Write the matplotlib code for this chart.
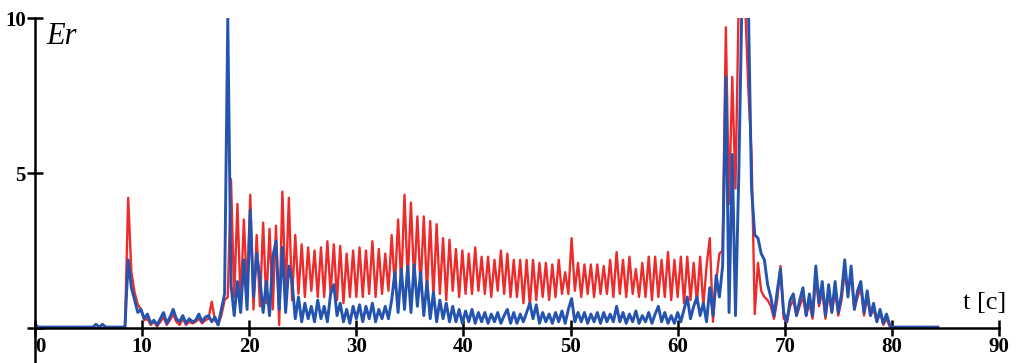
import numpy as np
import matplotlib
matplotlib.use("Agg")
import matplotlib.pyplot as plt

# sampled every 0.3 s, rows of 10 samples (3 s each)
dt = 0.3
blue = [
    0.12, 0.03, 0.03, 0.03, 0.03, 0.03, 0.03, 0.03, 0.03, 0.03,
    0.03, 0.03, 0.03, 0.03, 0.03, 0.03, 0.03, 0.03, 0.03, 0.12,
    0.03, 0.12, 0.03, 0.03, 0.03, 0.03, 0.03, 0.03, 0.03, 2.2,
    1.3, 0.9, 0.5, 0.6, 0.3, 0.45, 0.15, 0.25, 0.1, 0.3,
    0.5, 0.15, 0.35, 0.6, 0.3, 0.2, 0.4, 0.15, 0.3, 0.2,
    0.25, 0.45, 0.2, 0.35, 0.4, 0.2, 0.35, 0.1, 0.6, 1.1,
    10.0, 1.4, 0.4, 1.5, 0.5, 2.2, 0.6, 3.8, 1.0, 2.4,
    1.6, 0.5, 1.5, 0.4, 2.3, 2.8, 0.6, 2.6, 0.5, 2.0,
    1.5, 0.3, 1.0, 0.2, 0.8, 0.3, 0.7, 0.2, 0.9, 0.3,
    0.7, 0.2, 1.1, 1.4, 0.4, 0.8, 0.2, 0.6, 0.15, 0.7,
    0.3, 0.75, 0.2, 0.7, 0.3, 0.8, 0.2, 0.6, 0.3, 0.7,
    0.3, 0.9, 1.8, 0.5, 1.9, 0.6, 2.0, 0.5, 2.05, 0.7,
    1.8, 0.4, 1.5, 0.3, 1.15, 0.2, 0.9, 0.3, 0.8, 0.2,
    0.7, 0.2, 0.6, 0.15, 0.55, 0.2, 0.6, 0.15, 0.5, 0.2,
    0.5, 0.15, 0.45, 0.2, 0.5, 0.15, 0.4, 0.6, 0.15, 0.5,
    0.15, 0.45, 0.2, 0.5, 0.8, 0.3, 0.75, 0.15, 0.5, 0.2,
    0.45, 0.15, 0.5, 0.2, 0.55, 0.15, 0.6, 0.95, 0.2, 0.5,
    0.2, 0.5, 0.15, 0.45, 0.2, 0.5, 0.15, 0.5, 0.2, 0.45,
    0.2, 0.7, 0.2, 0.5, 0.15, 0.45, 0.2, 0.55, 0.15, 0.4,
    0.2, 0.5, 0.15, 0.45, 0.7, 0.2, 0.5, 0.15, 0.4, 0.15,
    0.5, 0.2, 0.6, 1.0, 0.3, 0.7, 1.0, 0.4, 0.8, 0.2,
    1.3, 0.4, 1.7, 1.0, 2.0, 8.1, 0.5, 5.6, 0.4, 4.8,
    10.5, 10.5, 10.5, 4.5, 3.0, 2.9, 2.4, 2.2, 1.4, 1.0,
    0.4, 1.2, 1.9, 0.5, 0.2, 0.9, 1.1, 0.4, 0.9, 1.3,
    0.4, 1.1, 0.4, 2.0, 0.8, 1.5, 0.4, 1.4, 0.5, 1.5,
    0.5, 1.1, 2.2, 1.0, 2.0, 0.6, 1.2, 1.5, 0.5, 1.2,
    0.4, 0.8, 0.2, 0.6, 0.15, 0.45, 0.1, 0.03, 0.03, 0.03,
    0.03, 0.03, 0.03, 0.03, 0.03, 0.03, 0.03, 0.03, 0.03, 0.03,
    0.03, 0.03,
]
red = [
    0, 0, 0, 0, 0, 0, 0, 0, 0, 0,
    0, 0, 0, 0, 0, 0, 0, 0, 0, 0,
    0, 0, 0, 0, 0, 0, 0, 0, 0, 4.2,
    1.8, 1.15, 0.75, 0.6, 0.25, 0.3, 0.1, 0.2, 0.05, 0.2,
    0.35, 0.1, 0.25, 0.45, 0.2, 0.1, 0.3, 0.1, 0.2, 0.15,
    0.2, 0.3, 0.15, 0.25, 0.3, 0.85, 0.25, 0.1, 0.4, 0.9,
    1.0, 4.8, 1.0, 4.0, 0.8, 3.5, 1.2, 4.3, 0.6, 3.0,
    0.7, 3.4, 0.8, 3.2, 0.6, 3.3, 0.1, 4.4, 1.0, 4.2,
    0.9, 3.0, 1.1, 2.7, 1.0, 2.6, 1.2, 2.5, 1.0, 2.6,
    1.0, 2.8, 1.1, 2.7, 0.9, 2.65, 0.8, 2.4, 1.0, 2.5,
    1.0, 2.6, 1.0, 2.5, 1.1, 2.8, 1.0, 2.55, 1.1, 2.4,
    1.2, 3.0, 1.3, 3.5, 1.4, 4.3, 1.5, 4.05, 1.5, 3.6,
    1.3, 3.6, 1.2, 3.45, 1.0, 3.35, 1.1, 2.9, 0.9, 2.85,
    1.2, 2.55, 1.0, 2.5, 1.1, 2.4, 1.1, 2.6, 1.2, 2.3,
    1.1, 2.3, 1.0, 2.2, 1.2, 2.5, 1.1, 2.4, 1.0, 2.2,
    1.0, 2.2, 0.8, 2.2, 0.7, 2.2, 0.9, 2.1, 1.0, 2.1,
    0.9, 2.05, 1.0, 2.2, 1.1, 1.8, 1.1, 2.9, 1.2, 2.1,
    1.0, 2.05, 1.1, 2.05, 1.0, 2.05, 1.1, 2.0, 1.1, 2.2,
    1.0, 2.45, 1.1, 2.2, 1.0, 2.3, 1.1, 1.9, 1.0, 2.1,
    1.0, 2.3, 0.9, 2.3, 1.0, 2.2, 1.0, 2.45, 0.9, 2.2,
    1.0, 2.3, 0.8, 2.3, 0.9, 2.1, 0.8, 2.3, 0.7, 2.0,
    2.9, 0.2, 1.5, 2.4, 2.5, 9.7, 4.0, 8.1, 4.5, 10.5,
    10.5, 10.5, 7.7, 5.6, 0.45, 2.1, 1.2, 1.0, 0.9, 0.7,
    0.3, 0.9, 2.0, 0.3, 0.2, 0.7, 0.9, 0.4, 0.7, 1.0,
    0.4, 0.8, 0.3, 1.6, 0.7, 1.2, 0.3, 1.1, 0.5, 1.2,
    0.4, 0.9, 1.8, 1.2, 1.7, 0.6, 1.0, 1.3, 0.4, 1.0,
    0.4, 0.6, 0.2, 0.5, 0.1, 0.3, 0.05, 0, 0, 0,
    0, 0, 0, 0, 0, 0, 0, 0, 0, 0,
    0, 0,
]
t = np.arange(len(blue)) * dt

xticks = [0, 10, 20, 30, 40, 50, 60, 70, 80, 90]
yticks = [0, 5, 10]
ylabels = ["", "5", "10"]

plt.rcParams["font.family"] = ["Liberation Serif", "DejaVu Serif"]

fig = plt.figure(figsize=(10.23, 3.63), dpi=100)
ax = fig.add_axes([0.0342, 0.0964, 0.9423, 0.854])

ax.plot(t, red, color="#ee2b2b", lw=1.7)
ax.plot(t, blue, color="#2454b0", lw=2.1)

ax.set_xlim(0, 90)
ax.set_ylim(0, 10)
ax.set_xticks(xticks)
ax.set_yticks(yticks)
ax.set_yticklabels(ylabels)
ax.tick_params(axis="both", direction="inout", length=11, width=1.8,
               labelsize=15, colors="black")
ax.tick_params(axis="x", pad=1)
ax.tick_params(axis="y", pad=1)
for lab in ax.get_xticklabels() + ax.get_yticklabels():
    lab.set_fontweight("bold")
ax.get_xticklabels()[0].set_horizontalalignment("left")

for s in ["top", "right"]:
    ax.spines[s].set_visible(False)
ax.spines["left"].set_linewidth(1.8)
ax.spines["bottom"].set_linewidth(1.8)
ax.spines["left"].set_bounds(-1.15, 10)

fig.text(46 / 1023, 1 - 22 / 363, "Er", fontsize=22, style="italic", va="top")
fig.text(963 / 1023, 1 - 309 / 363, "t [c]", fontsize=19, va="baseline")

fig.savefig("out.png", dpi=100)
